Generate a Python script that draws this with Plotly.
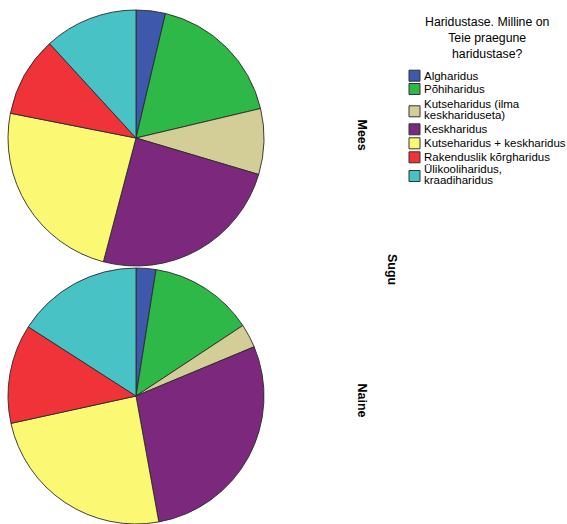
import plotly.graph_objects as go

# ---- data ----
categories = [
    "Algharidus",
    "Põhiharidus",
    "Kutseharidus (ilma keskhariduseta)",
    "Keskharidus",
    "Kutseharidus + keskharidus",
    "Rakenduslik kõrgharidus",
    "Ülikooliharidus, kraadiharidus",
]
legend_labels = [
    ["Algharidus"],
    ["Põhiharidus"],
    ["Kutseharidus (ilma", "keskhariduseta)"],
    ["Keskharidus"],
    ["Kutseharidus + keskharidus"],
    ["Rakenduslik kõrgharidus"],
    ["Ülikooliharidus,", "kraadiharidus"],
]
colors = ["#3E58AC", "#2EB848", "#D3CE97", "#7C287D", "#FBF873", "#EF3338", "#48C2C5"]
mees_values = [3.7, 17.6, 8.3, 24.5, 24.0, 10.1, 11.8]
naine_values = [2.5, 13.2, 3.0, 28.4, 24.4, 12.5, 15.9]
groups = ["Mees", "Naine"]
legend_title_lines = ["Haridustase. Milline on", "Teie praegune", "haridustase?"]
facet_title = "Sugu"

# ---- layout helpers (pixel -> paper) ----
W, H = 567, 524
font_family = "Arial, 'Liberation Sans', sans-serif"


def px_x(x):
    return x / W


def px_y(y):
    return 1 - y / H


fig = go.Figure()
domains = [
    dict(x=[px_x(8), px_x(264)], y=[px_y(266), px_y(10)]),
    dict(x=[px_x(8), px_x(264)], y=[px_y(524), px_y(268)]),
]
for name, vals, dom in zip(groups, [mees_values, naine_values], domains):
    fig.add_trace(go.Pie(
        labels=categories,
        values=vals,
        name=name,
        sort=False,
        direction="clockwise",
        rotation=0,
        textinfo="none",
        marker=dict(colors=colors, line=dict(color="#2a2a2a", width=0.9)),
        domain=dom,
        hoverinfo="label+percent",
        showlegend=False,
    ))

annotations = []
shapes = []

# facet labels
for text, x, y in [("Mees", 361.5, 135), ("Naine", 361.5, 400), (facet_title, 392, 269)]:
    annotations.append(dict(
        text="<b>" + text + "</b>", x=px_x(x), y=px_y(y), xref="paper", yref="paper",
        showarrow=False, xanchor="center", yanchor="middle", textangle=90,
        font=dict(size=12.5, color="black", family=font_family)))

# legend title: one centered text block
annotations.append(dict(
    text="<br>".join(legend_title_lines), x=px_x(487), y=px_y(37.5), xref="paper", yref="paper",
    showarrow=False, xanchor="center", yanchor="middle", align="center",
    font=dict(size=12.3, color="black", family=font_family)))

# legend entries
row_y = [75.7, 89, 111.3, 129.3, 143.3, 157.3, 176]
for lines, color, cy in zip(legend_labels, colors, row_y):
    shapes.append(dict(
        type="rect", xref="paper", yref="paper",
        x0=px_x(409), x1=px_x(420), y0=px_y(cy + 5.5), y1=px_y(cy - 5.5),
        fillcolor=color, line=dict(color="#333333", width=1)))
    offsets = [0] if len(lines) == 1 else [-7, 3.7]
    for line, off in zip(lines, offsets):
        annotations.append(dict(
            text=line, x=px_x(421.5), y=px_y(cy + off), xref="paper", yref="paper",
            showarrow=False, xanchor="left", yanchor="middle",
            font=dict(size=11.5, color="black", family=font_family)))

fig.update_layout(
    width=W, height=H,
    margin=dict(l=0, r=0, t=0, b=0, autoexpand=False),
    paper_bgcolor="white",
    plot_bgcolor="white",
    font=dict(family=font_family, color="black"),
    showlegend=False,
    annotations=annotations,
    shapes=shapes,
)

fig.write_html("out.html")
